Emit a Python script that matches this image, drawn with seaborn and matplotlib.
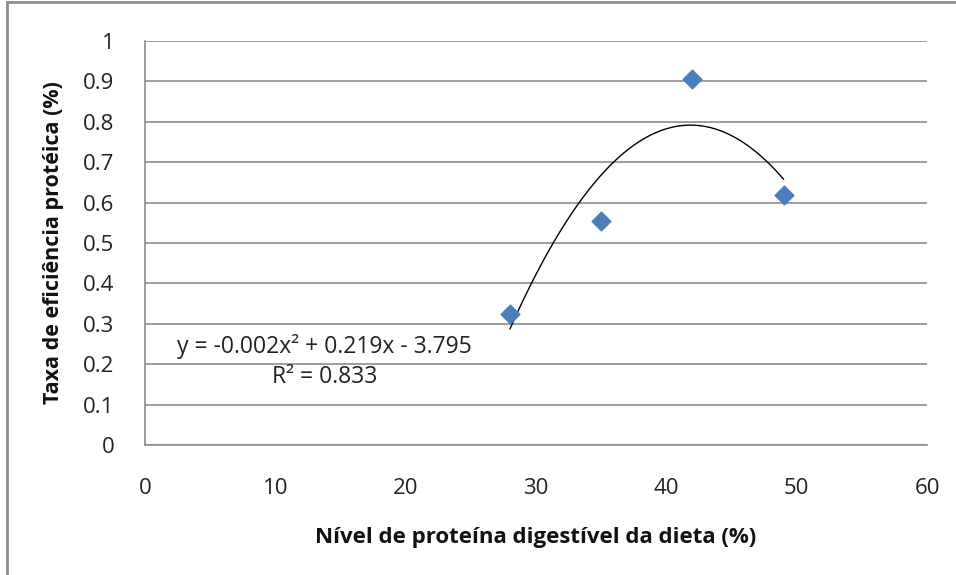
import numpy as np
import pandas as pd
import seaborn as sns
import matplotlib.pyplot as plt
from matplotlib.patches import Rectangle

# dados
nivel_proteina = [28, 35, 42, 49]
taxa_eficiencia = [0.325, 0.555, 0.905, 0.62]
x_ticks = [0, 10, 20, 30, 40, 50, 60]
y_ticks = [0, 0.1, 0.2, 0.3, 0.4, 0.5, 0.6, 0.7, 0.8, 0.9, 1]
y_tick_labels = ["0", "0.1", "0.2", "0.3", "0.4", "0.5", "0.6", "0.7", "0.8", "0.9", "1"]
equacao = "y = -0.002x² + 0.219x - 3.795"
r2 = "R² = 0.833"

df = pd.DataFrame({"nivel": nivel_proteina, "taxa": taxa_eficiencia})

sns.set_style("white")
plt.rcParams['font.family'] = ['Open Sans', 'DejaVu Sans']

fig = plt.figure(figsize=(9.56, 5.75), dpi=100)
ax = fig.add_axes([145 / 956, 1 - 445 / 575, 782 / 956, 404 / 575])

# linhas de grade horizontais
for yv in y_ticks:
    ax.axhline(yv, color='#8c8c8c', lw=1.2, zorder=0)

# linha de tendencia polinomial (ordem 2)
coef = np.polyfit(df['nivel'], df['taxa'], 2)
xs = np.linspace(min(nivel_proteina), max(nivel_proteina), 200)
sns.lineplot(x=xs, y=np.polyval(coef, xs), color='black', lw=1, ax=ax, zorder=2)

# pontos
sns.scatterplot(data=df, x='nivel', y='taxa', marker='D', s=95, color='#4a7ebb',
                edgecolor='#4a7ebb', ax=ax, zorder=3)

ax.set_xlim(0, 60)
ax.set_ylim(0, 1)
ax.set_xticks(x_ticks)
ax.set_yticks(y_ticks)
ax.set_yticklabels(y_tick_labels)
ax.tick_params(axis='both', labelsize=16, colors='#8c8c8c', labelcolor='#222222')
ax.tick_params(axis='y', length=4, width=1.2, pad=18)
ax.tick_params(axis='x', length=0, pad=24)

for s in ['top', 'right']:
    ax.spines[s].set_visible(False)
for s in ['left', 'bottom']:
    ax.spines[s].set_color('#8c8c8c')
    ax.spines[s].set_linewidth(1.2)

ax.set_xlabel('Nível de proteína digestível da dieta (%)', fontsize=16, fontweight='bold',
              color='#111111', labelpad=20)
ax.set_ylabel('Taxa de eficiência protéica (%)', fontsize=15.5, fontweight='bold',
              color='#111111', labelpad=14)

# equacao e R2
ax.text(13.8, 0.243, equacao, ha='center', va='center', fontsize=16.5, color='#222222')
ax.text(13.8, 0.168, r2, ha='center', va='center', fontsize=16.5, color='#222222')

# borda externa
fig.patches.append(Rectangle((7 / 956, -0.01), 1.0, 1 - 2 / 575 + 0.01, transform=fig.transFigure,
                             fill=False, edgecolor='#8c8c8c', lw=2))

plt.savefig('out.png', dpi=100)
